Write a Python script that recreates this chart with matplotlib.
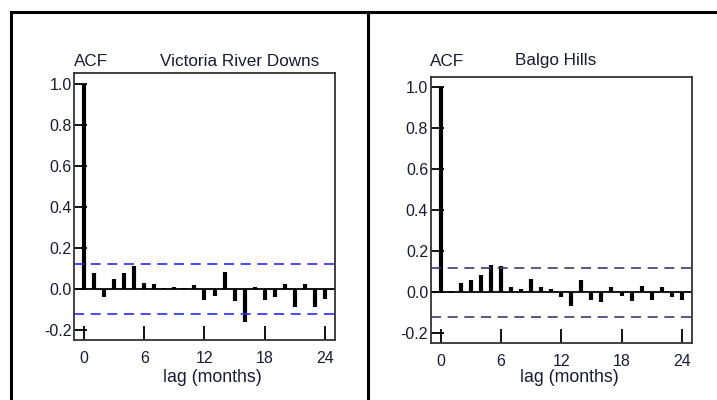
import matplotlib
matplotlib.use('Agg')
import matplotlib.pyplot as plt
from matplotlib.lines import Line2D
import numpy as np

plt.rcParams['font.family'] = ['Liberation Sans', 'DejaVu Sans']

lags = list(range(25))
# ACF values
acf_vrd = [1.0, 0.08, -0.04, 0.05, 0.08, 0.11, 0.03, 0.025, 0.005, 0.01, 0.005, 0.02,
           -0.055, -0.035, 0.085, -0.06, -0.16, 0.01, -0.055, -0.04, 0.025, -0.085,
           0.025, -0.085, -0.05]
acf_balgo = [1.0, 0.005, 0.045, 0.06, 0.085, 0.135, 0.13, 0.025, 0.015, 0.065, 0.025,
             0.015, -0.025, -0.065, 0.06, -0.035, -0.045, 0.025, -0.02, -0.04, 0.03,
             -0.035, 0.025, -0.025, -0.035]
conf_band = 0.12
x_ticks = [0, 6, 12, 18, 24]
y_ticks = [-0.2, 0.0, 0.2, 0.4, 0.6, 0.8, 1.0]
titles = ['Victoria River Downs', 'Balgo Hills']

txt_col = '#1a1a33'

fig = plt.figure(figsize=(7.17, 4.0), dpi=100)

# outer frame lines (top, left edge and divider)
fig.add_artist(Line2D([0.0153, 1.0], [0.97, 0.97], color='black', lw=2.2, transform=fig.transFigure))
fig.add_artist(Line2D([0.0153, 0.0153], [0.0, 0.97], color='black', lw=2.2, transform=fig.transFigure))
fig.add_artist(Line2D([0.5133, 0.5133], [0.0, 0.97], color='black', lw=2.2, transform=fig.transFigure))

panels = [
    dict(rect=[0.1036, 0.15, 0.3632, 0.6668], data=acf_vrd, title=titles[0],
         dash='#2a2aff', acf_x=0.103, title_x=0.223, xl_y=-0.142),
    dict(rect=[0.6011, 0.1418, 0.3636, 0.6665], data=acf_balgo, title=titles[1],
         dash='#3b3b70', acf_x=0.5997, title_x=0.718, xl_y=-0.130),
]

for p in panels:
    ax = fig.add_axes(p['rect'])
    ax.vlines(lags, 0, p['data'], colors='black', lw=3.0, capstyle='butt')
    ax.axhline(0, color='black', lw=1.3)
    ax.axhline(conf_band, color=p['dash'], lw=1.2, ls=(0, (6, 4)))
    ax.axhline(-conf_band, color=p['dash'], lw=1.2, ls=(0, (6, 4)))
    ax.set_xlim(-1, 25)
    ax.set_ylim(-0.248, 1.05)
    ax.set_xticks(x_ticks)
    ax.set_yticks(y_ticks)
    ax.set_yticklabels(['%.1f' % v for v in y_ticks])
    ax.tick_params(axis='x', direction='in', length=10, width=1.3, pad=8,
                   labelsize=11.5, labelcolor=txt_col)
    ax.tick_params(axis='y', direction='in', length=9, width=1.3, pad=2,
                   labelsize=11.5, labelcolor=txt_col)
    for s in ax.spines.values():
        s.set_color('#333333')
        s.set_linewidth(1.3)
    ax.text(0.531, p['xl_y'], 'lag (months)', transform=ax.transAxes,
            ha='center', va='center', fontsize=12.8, color=txt_col)
    fig.text(p['acf_x'], 0.8475, 'ACF', ha='left', va='center', fontsize=12.3, color=txt_col)
    fig.text(p['title_x'], 0.8475, p['title'], ha='left', va='center', fontsize=12.3, color=txt_col)

fig.savefig('out.png', dpi=100)
